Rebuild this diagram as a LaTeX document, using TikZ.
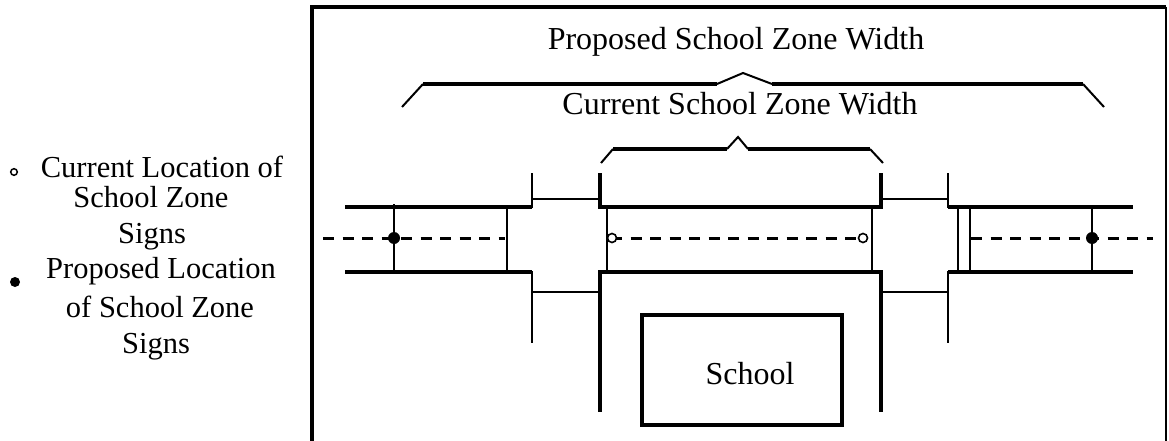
\documentclass[tikz,border=0pt]{standalone}
\usepackage{fontspec}
\setmainfont{Liberation Serif}
\begin{document}
\begin{tikzpicture}[x=1pt,y=-1pt,
  txt/.style={inner sep=0pt,anchor=base,font=\fontsize{32}{36}\selectfont},
  legtxt/.style={inner sep=0pt,anchor=base,font=\fontsize{30.5}{36}\selectfont},
  heavy/.style={line width=4.5pt},
  road/.style={line width=3.5pt},
  thinl/.style={line width=2.5pt},
  braceh/.style={line width=4pt},
  braced/.style={line width=2pt},
  centre/.style={line width=3pt,dash pattern=on 11pt off 8.5pt},
  frame/.style={line width=3.5pt}]
\useasboundingbox (0,0) rectangle (1169,441);
% frame
\draw[frame] (312,441) -- (312,7) -- (1166,7);
\draw[line width=1.8pt] (1166,7) -- (1166,441);
% texts
\node[txt] (prop) at (736,50) {Proposed School Zone Width};
\node[txt] (curr) at (740,115) {Current School Zone Width};
% proposed brace
\draw[braced] (402,107) -- (423,84);
\draw[braceh] (423,84) -- (717,84);
\draw[braced] (717,84) -- (743,73) -- (772,84);
\draw[braceh] (772,84) -- (1083,84);
\draw[braced] (1083,84) -- (1104,107);
% current brace
\draw[braced] (601,163) -- (613,149);
\draw[braceh] (613,149) -- (727,149);
\draw[braced] (727,149) -- (738,137) -- (748,149);
\draw[braceh] (748,149) -- (870,149);
\draw[braced] (870,149) -- (883,163);
% road edges
\draw[road] (345,207) -- (532,207);
\draw[road] (345,272) -- (532,272);
\draw[road] (600,207) -- (881,207);
\draw[road] (600,272) -- (881,272);
\draw[road] (948,207) -- (1133,207);
\draw[road] (948,272) -- (1133,272);
% side streets / sidewalks
\draw[thinl] (532,173) -- (532,208);
\draw[thinl] (532,271) -- (532,343);
\draw[thinl] (532,199) -- (600,199);
\draw[thinl] (532,292) -- (600,292);
\draw[thinl] (948,173) -- (948,208);
\draw[thinl] (948,271) -- (948,343);
\draw[thinl] (881,199) -- (948,199);
\draw[thinl] (881,292) -- (948,292);
\draw[heavy] (600,173) -- (600,209);
\draw[heavy] (600,270) -- (600,412);
\draw[heavy] (881,173) -- (881,209);
\draw[heavy] (881,270) -- (881,412);
% cross lines on road
\draw[thinl] (394,204) -- (394,272);
\draw[thinl] (507,207) -- (507,272);
\draw[thinl] (607,207) -- (607,272);
\draw[thinl] (872,205) -- (872,272);
\draw[thinl] (958,205) -- (958,272);
\draw[thinl] (970,205) -- (970,272);
\draw[thinl] (1092,207) -- (1092,274);
% centre lines
\draw[centre] (323,238) -- (505,238);
\draw[centre] (611,238) -- (863,238);
\draw[centre] (971,238) -- (1153,238);
% signs
\fill (394,238) circle (6);
\fill (1092,238) circle (6);
\draw[line width=1.6pt,fill=white] (612,238) circle (4.5);
\draw[line width=1.6pt,fill=white] (863,238) circle (4.5);
% school
\draw[line width=4pt] (642,315) rectangle (842,425);
\node[txt] (school) at (750,384) {School};
% legend
\draw[line width=1.5pt] (14,172) circle (3.3);
\fill (15,282) circle (5);
\node[legtxt] (l1) at (162,177) {Current Location of};
\node[legtxt] (l2) at (151,207) {School Zone};
\node[legtxt] (l3) at (152,243) {Signs};
\node[legtxt] (l4) at (161,278) {Proposed Location};
\node[legtxt] (l5) at (160,317) {of School Zone};
\node[legtxt] (l6) at (156,353) {Signs};
\end{tikzpicture}
\end{document}
